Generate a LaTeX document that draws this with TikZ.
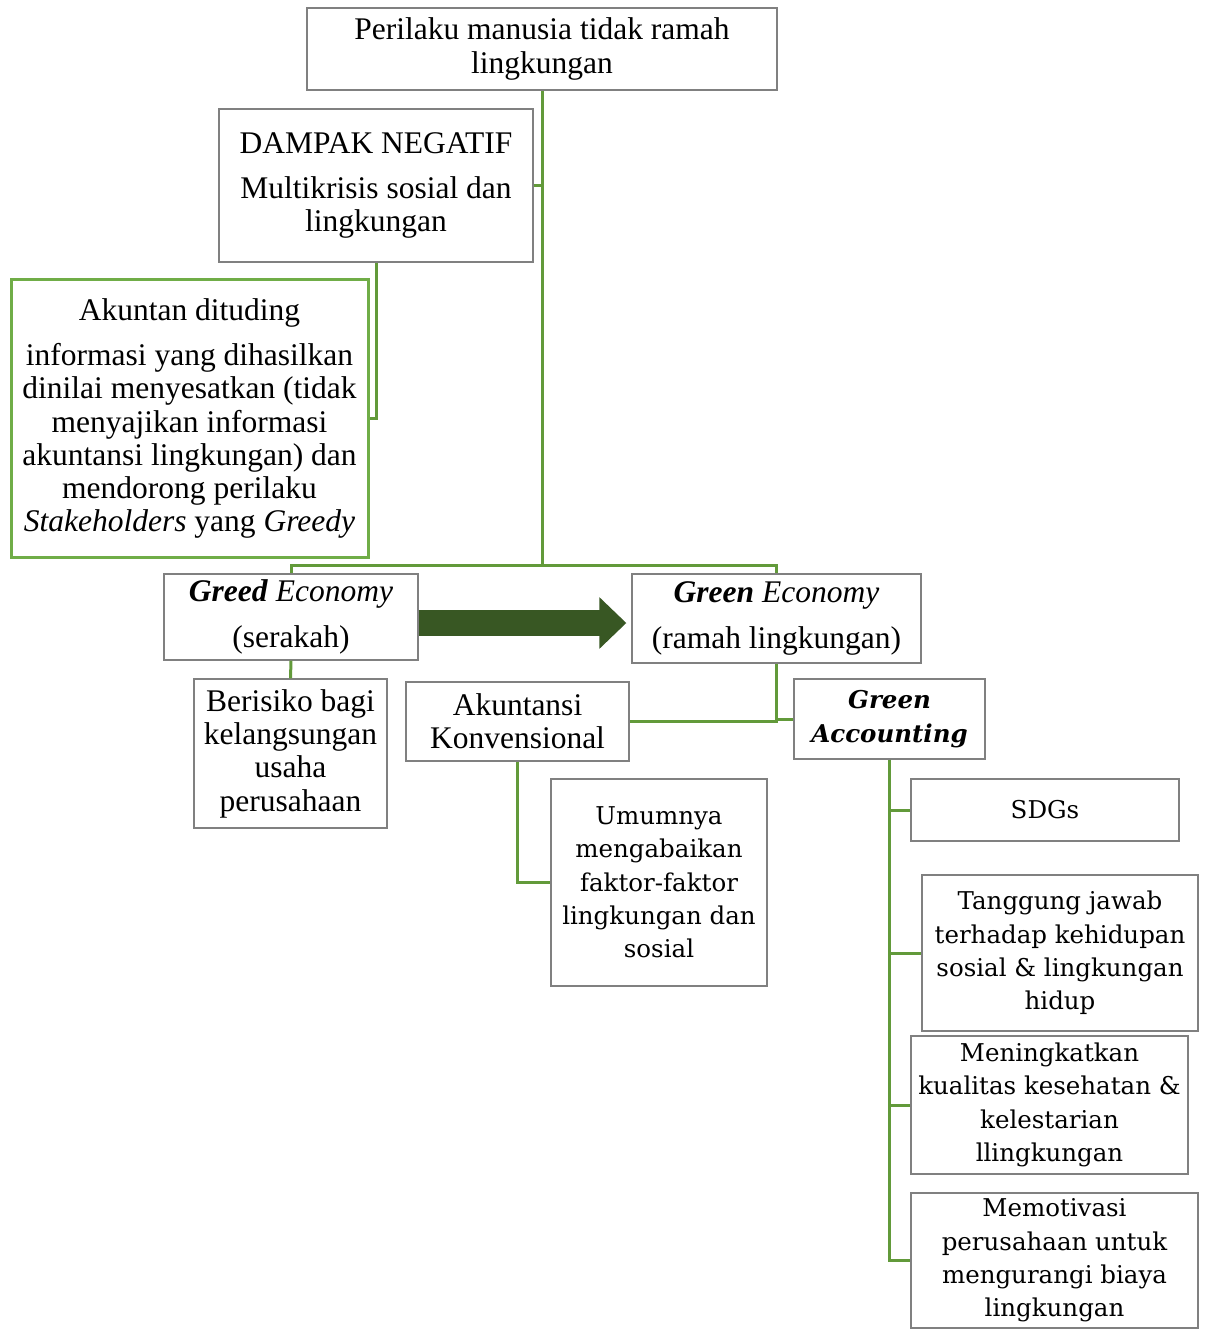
\documentclass[tikz,border=0pt]{standalone}
\usepackage{fontspec}
\setmainfont{Liberation Serif}
\newfontfamily\wideserif{DejaVu Serif}
\usetikzlibrary{arrows.meta}
\definecolor{boxgray}{RGB}{128,128,128}
\definecolor{boxgreen}{RGB}{112,173,71}
\definecolor{linkgreen}{RGB}{98,154,58}
\definecolor{arrowgreen}{RGB}{56,87,35}

\begin{document}
\begin{tikzpicture}[x=1pt, y=-1pt, %
    box/.style={draw=boxgray, line width=1.3pt, align=center, inner sep=0pt, %
      font=\fontsize{31.5}{33.3}\selectfont}, %
    wbox/.style={box, font=\wideserif\fontsize{24.5}{33.3}\selectfont}, %
    gbox/.style={box, draw=boxgreen, line width=3pt}, %
    link/.style={draw=linkgreen, line width=3pt}, %
    bigarrow/.style={draw=arrowgreen, line width=26pt, -{Triangle[length=27pt,width=50pt]}}, %
    ]
    \useasboundingbox (0,0) rectangle (1205,1329);

    % top of the tree
    \node[box, minimum width=470pt, minimum height=82pt] (top) at (542,49) {Perilaku manusia tidak ramah\\lingkungan};
    \node[box, minimum width=314pt, minimum height=153pt] (dampak) at (376,185.5) {DAMPAK NEGATIF\\[11pt]Multikrisis sosial dan\\lingkungan};
    \node[gbox, minimum width=357pt, minimum height=277pt] (akuntan) at (189.5,418.5) {Akuntan dituding\\[12pt]informasi yang dihasilkan\\dinilai menyesatkan (tidak\\menyajikan informasi\\akuntansi lingkungan) dan\\mendorong perilaku\\\textit{Stakeholders} yang \textit{Greedy}};

    % the two economies
    \node[box, minimum width=254pt, minimum height=86pt] (greed) at (291,617) {\textbf{\textit{Greed}} \textit{Economy}\\[12pt](serakah)};
    \node[box, minimum width=289pt, minimum height=89pt] (green) at (776.5,618.5) {\textbf{\textit{Green}} \textit{Economy}\\[12pt](ramah lingkungan)};

    \node[box, minimum width=193pt, minimum height=149pt] (berisiko) at (290.5,753.5) {Berisiko bagi\\kelangsungan\\usaha\\perusahaan};
    \node[box, minimum width=223pt, minimum height=79pt] (konv) at (517.5,721.5) {Akuntansi\\Konvensional};
    \node[wbox, minimum width=191pt, minimum height=80pt] (gacc) at (889.5,719) {\bfseries\itshape Green\\\bfseries\itshape Accounting};
    \node[wbox, minimum width=216pt, minimum height=207pt] (umum) at (659,882.5) {Umumnya\\mengabaikan\\faktor-faktor\\lingkungan dan\\sosial};

    % what green accounting brings
    \node[wbox, minimum width=268pt, minimum height=62pt] (sdg) at (1045,810) {SDGs};
    \node[wbox, minimum width=276pt, minimum height=156pt] (tang) at (1060,953) {Tanggung jawab\\terhadap kehidupan\\sosial \& lingkungan\\hidup};
    \node[wbox, minimum width=277pt, minimum height=138pt] (ming) at (1049.5,1105) {Meningkatkan\\kualitas kesehatan \&\\kelestarian\\llingkungan};
    \node[wbox, minimum width=287pt, minimum height=135pt] (motiv) at (1054.5,1260.5) {Memotivasi\\perusahaan untuk\\mengurangi biaya\\lingkungan};

    % connectors
    \coordinate (hub) at (542,565);
    \draw[link] (top.south) -- (hub);
    \draw[link] (greed.north) |- (hub) -| (green.north);
    \draw[link] (dampak.east) -- (dampak.east -| top.south);
    \draw[link] (dampak.south) |- (akuntan.east);
    \draw[link] (greed.south) -- (berisiko.north);
    \draw[link] (green.south) |- (konv.east);
    \draw[link] (gacc.west) -- (gacc.west -| green.south);
    \draw[link] (konv.south) |- (umum.west);
    \foreach \n in {sdg,tang,ming,motiv}{ \draw[link] (gacc.south) |- (\n.west); }

    \draw[bigarrow, shorten >=5pt] ([yshift=-6pt]greed.east) -- ([yshift=-6pt]greed.east -| green.west);
\end{tikzpicture}
\end{document}
